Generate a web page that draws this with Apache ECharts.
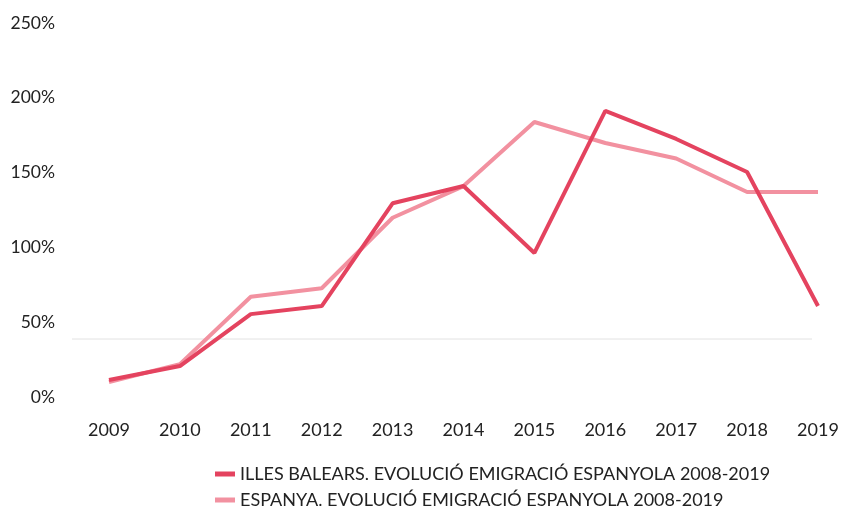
<!DOCTYPE html>
<html>
<head>
<meta charset="utf-8">
<script src="https://cdn.jsdelivr.net/npm/echarts@6/dist/echarts.min.js"></script>
<style>
  html, body { margin: 0; padding: 0; background: #fff; }
  #chart { width: 842px; height: 511px; }
</style>
</head>
<body>
<div id="chart"></div>
<script>
// anys i valors (%)
const years = ['2009', '2010', '2011', '2012', '2013', '2014', '2015', '2016', '2017', '2018', '2019']
const illesBalears = [11.4, 20.7, 55.4, 60.8, 129.5, 141, 96.3, 191.2, 172.5, 150.4, 60.8]
const espanya = [10, 22, 67, 72.7, 119.8, 141, 183.8, 169.8, 159.4, 137, 137]
const seriesNames = [
  'ILLES BALEARS. EVOLUCIÓ EMIGRACIÓ ESPANYOLA 2008-2019',
  'ESPANYA. EVOLUCIÓ EMIGRACIÓ ESPANYOLA 2008-2019'
]

const chart = echarts.init(document.getElementById('chart'))
chart.setOption({
  animation: false,
  color: ['#E4435F', '#F291A0'],
  textStyle: { fontFamily: 'Lato' },
  grid: { left: 109, right: 24, top: 23, bottom: 114 },
  xAxis: {
    type: 'category',
    data: years,
    boundaryGap: false,
    axisLine: { show: false },
    axisTick: { show: false },
    axisLabel: { color: '#222', fontSize: 18, margin: 24 }
  },
  yAxis: {
    type: 'value',
    min: 0,
    max: 250,
    interval: 50,
    splitLine: { show: false },
    axisLabel: { color: '#222', fontSize: 17.5, margin: 54, formatter: '{value}%' }
  },
  legend: {
    orient: 'vertical',
    left: 215,
    top: 465,
    padding: 0,
    itemGap: 8,
    itemWidth: 20,
    itemHeight: 5,
    icon: 'rect',
    textStyle: { color: '#222', fontSize: 18 },
    data: seriesNames
  },
  graphic: [{
    type: 'line',
    shape: { x1: 72, y1: 339, x2: 812, y2: 339 },
    style: { stroke: '#e2e2e2', lineWidth: 1 }
  }],
  series: [
    {
      name: seriesNames[0],
      type: 'line',
      data: illesBalears,
      symbol: 'none',
      lineStyle: { width: 4 },
      z: 3
    },
    {
      name: seriesNames[1],
      type: 'line',
      data: espanya,
      symbol: 'none',
      lineStyle: { width: 4 },
      z: 2
    }
  ]
})
</script>
</body>
</html>
